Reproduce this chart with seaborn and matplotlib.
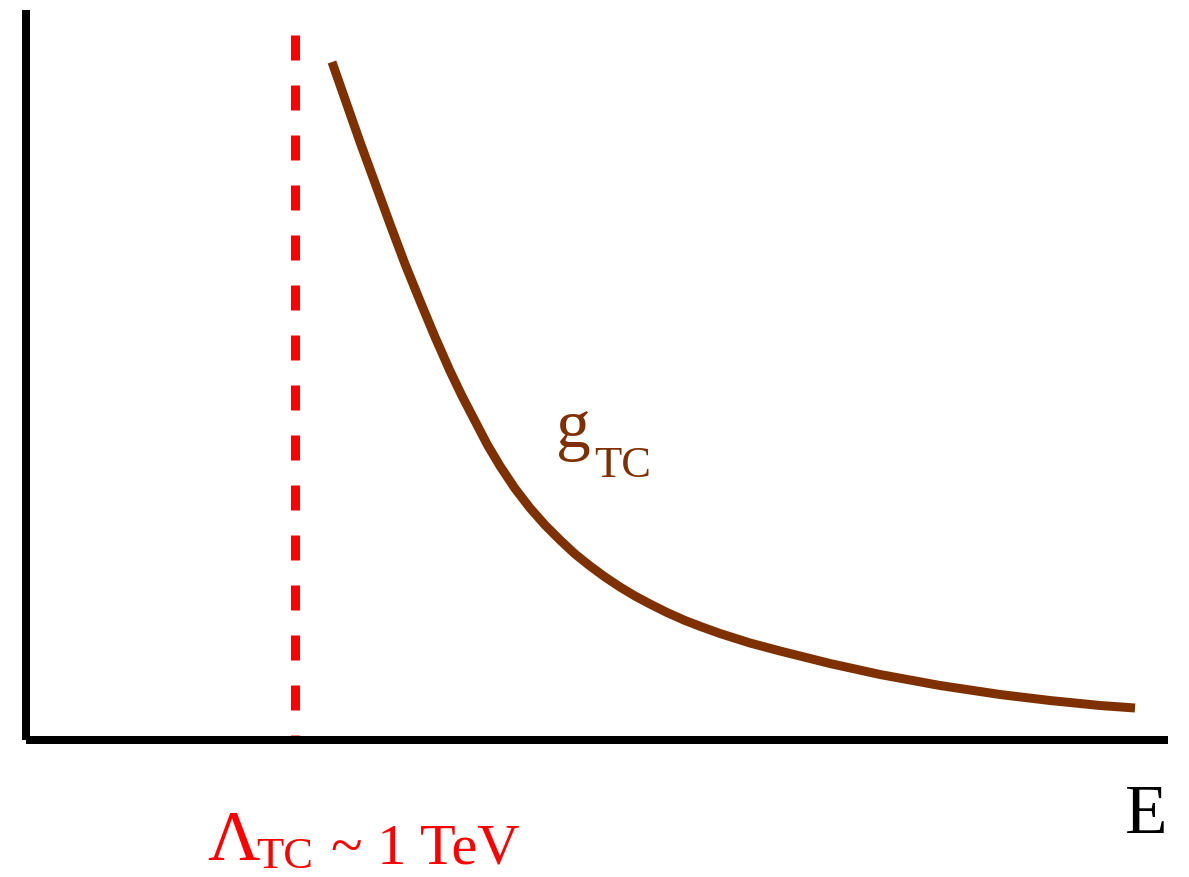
import numpy as np
import pandas as pd
import matplotlib
matplotlib.use("Agg")
import matplotlib.pyplot as plt
import seaborn as sns

# Running coupling of the technicolor gauge theory vs. energy scale (arbitrary units)
energy = [3.06, 3.20, 3.34, 3.49, 3.64, 3.79, 3.94, 4.09, 4.24, 4.36, 4.49, 4.615,
          4.74, 4.89, 5.04, 5.19, 5.34, 5.49, 5.64, 5.79, 5.94, 6.09, 6.24, 6.41,
          6.59, 6.76, 6.94, 7.24, 7.54, 8.04, 8.54, 9.14, 9.74, 10.24, 10.74, 11.09]
coupling = [6.78, 6.38, 5.98, 5.57, 5.16, 4.76, 4.39, 4.03, 3.69, 3.44, 3.19, 2.95,
            2.74, 2.515, 2.32, 2.15, 2.00, 1.86, 1.74, 1.63, 1.53, 1.44, 1.36, 1.275,
            1.195, 1.13, 1.065, 0.97, 0.89, 0.765, 0.655, 0.545, 0.455, 0.395, 0.345, 0.32]

# Confinement scale and the labels
lambda_tc = 2.69
lambda_symbol, lambda_sub, lambda_value = "\u039b", "TC", "~ 1 TeV"
curve_symbol, curve_sub = "g", "TC"
axis_label = "E"

sns.set_style("white")
plt.rcParams["font.family"] = ["Liberation Serif", "DejaVu Serif"]
plt.rcParams["lines.scale_dashes"] = False

W, H, DPI = 1189, 877, 100
fig = plt.figure(figsize=(W / DPI, H / DPI), dpi=DPI)
px = 72 / DPI  # one pixel in points

# axes box: left spine at x=26px, bottom spine at y=740px (from top)
left, bottom, right, top = 26, 740, 1168, 10
ax = fig.add_axes([left / W, 1 - bottom / H, (right - left) / W, (bottom - top) / H])
ax.set_xlim(0, (right - left) / 100)
ax.set_ylim(0, (bottom - top) / 100)

df = pd.DataFrame({"E": energy, "g": coupling})
sns.lineplot(data=df, x="E", y="g", ax=ax, color="#7f3000", lw=9 * px,
             solid_capstyle="butt", solid_joinstyle="round", sort=False)

ax.plot([lambda_tc, lambda_tc], [7.05, 0], color="#ff0000", lw=9 * px,
        linestyle=(0, (25 * px, 25 * px)), dash_capstyle="butt")

for side in ("top", "right"):
    ax.spines[side].set_visible(False)
for side in ("left", "bottom"):
    ax.spines[side].set_linewidth(8 * px)
    ax.spines[side].set_color("black")
    ax.spines[side].set_capstyle("butt")
ax.set_xticks([])
ax.set_yticks([])
ax.set_xlabel("")
ax.set_ylabel("")


def put(x, y, s, size, color):
    fig.text(x / W, 1 - y / H, s, fontsize=size, color=color,
             ha="left", va="baseline")


put(1125, 833, axis_label, 50, "black")

# Lambda_TC ~ 1 TeV
put(207, 860, lambda_symbol, 52, "#ff0000")
put(256, 868, lambda_sub, 32, "#ff0000")
put(331, 863, lambda_value, 42, "#ff0000")

# g_TC
put(556, 447, curve_symbol, 50, "#7f3000")
put(594, 477, curve_sub, 32, "#7f3000")

fig.savefig("out.png", dpi=DPI, facecolor="white")
